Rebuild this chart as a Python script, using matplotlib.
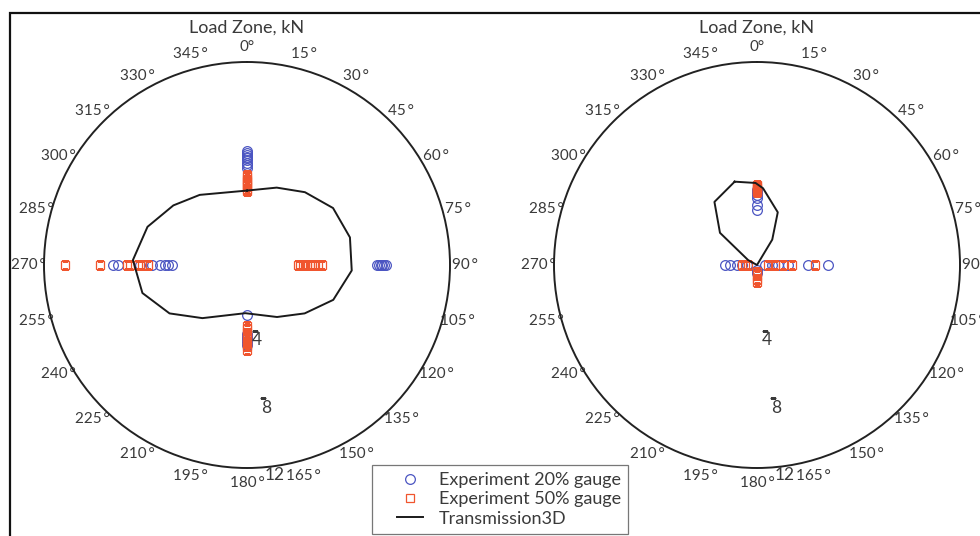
import numpy as np
import matplotlib
matplotlib.use("Agg")
from matplotlib import pyplot as plt
from matplotlib.patches import Rectangle
from matplotlib.legend_handler import HandlerLine2D

plt.rcParams['font.family'] = ['Lato', 'DejaVu Sans']

BLUE = '#4b55c2'
RED = '#f0552e'
TXT = '#3a3a3a'

# left panel: Transmission3D load zone (deg, kN)
curve_a_theta = [0, 21, 38.5, 56.5, 75, 93, 112, 130, 150, 182, 220, 238, 255, 272.5, 291, 309, 326, 360]
curve_a_r = [4.4, 4.9, 5.5, 6.1, 6.3, 6.2, 5.5, 4.45, 3.55, 2.85, 4.1, 5.4, 6.4, 6.75, 6.3, 5.6, 5.0, 4.4]

# left panel: experiment, 20% gauge
exp20_a_theta = [0] * 9 + [90] * 6 + [180] * 6 + [270] * 8
exp20_a_r = [6.75, 6.6, 6.5, 6.4, 6.3, 6.2, 6.05, 5.9, 5.75,
             7.7, 7.8, 7.9, 8.0, 8.1, 8.2,
             2.96, 4.08, 4.25, 4.4, 4.55, 4.73,
             7.93, 7.63, 6.33, 5.62, 5.15, 4.85, 4.67, 4.44]

# left panel: experiment, 50% gauge
exp50_a_theta = [0] * 8 + [90] * 10 + [180] * 8 + [270] * 7
exp50_a_r = [5.33, 5.2, 5.05, 4.9, 4.8, 4.65, 4.5, 4.38,
             3.0, 3.15, 3.3, 3.45, 3.55, 3.7, 3.85, 4.0, 4.2, 4.44,
             3.6, 3.8, 4.0, 4.2, 4.4, 4.6, 4.8, 5.03,
             10.77, 8.7, 7.1, 6.9, 6.45, 6.2, 5.86]

# right panel: Transmission3D load zone
curve_b_theta = [345, 359, 4.5, 21.5, 31, 90, 180, 270, 299, 311, 326, 345]
curve_b_r = [5.1, 4.85, 4.55, 3.35, 1.75, 0.0, 0.0, 0.0, 0.6, 2.9, 4.5, 5.1]

# right panel: experiment, 20% gauge
exp20_b_theta = [0] * 7 + [90] * 6 + [180] * 2 + [270] * 5
exp20_b_r = [4.44, 4.38, 4.3, 4.14, 3.96, 3.55, 3.25,
             0.47, 0.89, 1.24, 1.83, 3.0, 4.2,
             0.3, 0.5,
             1.9, 1.6, 1.18, 0.89, 0.59]

# right panel: experiment, 50% gauge
exp50_b_theta = [0] * 6 + [90] * 5 + [180] * 4 + [270] * 3
exp50_b_r = [4.73, 4.65, 4.55, 4.45, 4.38, 4.32,
             0.65, 1.07, 1.54, 2.07, 3.43,
             0.4, 0.6, 0.8, 1.0,
             0.89, 0.71, 0.53]

theta_ticks = list(range(0, 360, 15))
theta_labels = ['%d\u2009°' % t if t else '0°' for t in theta_ticks]
r_ticks = [4, 8, 12]


def polar_panel(ax, curve_t, curve_r, e20_t, e20_r, e50_t, e50_r):
    ax.set_theta_zero_location('N')
    ax.set_theta_direction(-1)
    ax.set_ylim(0, 12)
    ax.grid(False)
    ax.set_yticks([])
    ax.set_xticks(np.radians(theta_ticks))
    ax.set_xticklabels(theta_labels, color=TXT, fontsize=11)
    ax.tick_params(axis='x', direction='in', length=4, width=0.9, pad=4)
    ax.spines['polar'].set_linewidth(1.4)
    ax.spines['polar'].set_color('#222222')

    h1, = ax.plot(np.radians(e20_t), e20_r, 'o', mfc='none', mec=BLUE, ms=7, mew=0.9,
                  label='Experiment 20% gauge')
    h2, = ax.plot(np.radians(e50_t), e50_r, 's', mfc='none', mec=RED, ms=6.2, mew=0.9,
                  label='Experiment 50% gauge')
    h3, = ax.plot(np.radians(curve_t), curve_r, '-', color='#1a1a1a', lw=1.4,
                  label='Transmission3D')

    # radial labels along the 172.5 deg ray
    for r in r_ticks:
        ax.text(np.radians(172.5), r + 0.5, str(r), ha='center', va='center',
                color=TXT, fontsize=12.5)
        if r < 12:
            ax.plot(np.radians(173), r - 0.05, marker='_', ms=5, color=TXT, mew=0.9)

    ax.set_title('Load Zone, kN', color=TXT, fontsize=13, pad=21)
    return [h1, h2, h3]


fig = plt.figure(figsize=(9.8, 5.36), dpi=100)

ax1 = fig.add_axes([44 / 980, 68 / 536, 406 / 980, 406 / 536], projection='polar')
handles = polar_panel(ax1, curve_a_theta, curve_a_r, exp20_a_theta, exp20_a_r,
                      exp50_a_theta, exp50_a_r)

ax2 = fig.add_axes([554 / 980, 68 / 536, 406 / 980, 406 / 536], projection='polar')
polar_panel(ax2, curve_b_theta, curve_b_r, exp20_b_theta, exp20_b_r,
            exp50_b_theta, exp50_b_r)

leg = fig.legend(handles=handles, loc='upper left', bbox_to_anchor=(372 / 980, 71 / 536),
                 frameon=True, fancybox=False, fontsize=13, handlelength=2.4,
                 borderpad=0.4, labelspacing=0.18, handletextpad=0.9, borderaxespad=0,
                 handler_map={h: HandlerLine2D(xpad=1.0) for h in handles})
leg.get_frame().set_edgecolor('#555555')
leg.get_frame().set_linewidth(0.9)
for t in leg.get_texts():
    t.set_color(TXT)

# outer frame
fig.add_artist(Rectangle((10 / 980, -0.1), 1.2, (536 - 13) / 536 + 0.1,
                         transform=fig.transFigure, fill=False, lw=1.6,
                         edgecolor='#111111', clip_on=False))

fig.savefig('out.png', dpi=100)
